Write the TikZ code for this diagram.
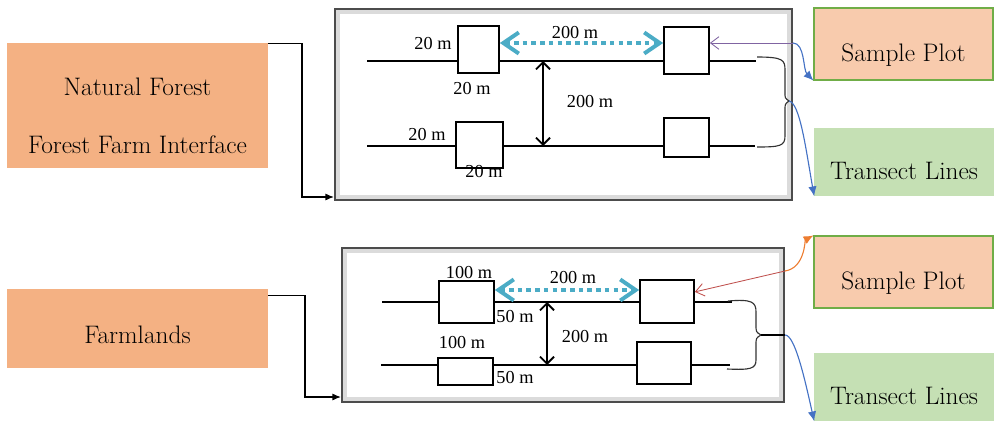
\documentclass[tikz,border=0pt]{standalone}
\usepackage{fontspec}
\newfontfamily\dimfont{Liberation Serif}
\usetikzlibrary{arrows.meta,positioning}
\definecolor{landfill}{HTML}{F4B183}
\definecolor{plotfill}{HTML}{F8CBAD}
\definecolor{plotedge}{HTML}{70AD47}
\definecolor{linefill}{HTML}{C5E0B4}
\definecolor{gapblue}{HTML}{4BACC6}
\definecolor{linkblue}{HTML}{4472C4}
\definecolor{linkpurple}{HTML}{8064A2}
\definecolor{linkred}{HTML}{C0504D}
\definecolor{linkorange}{HTML}{ED7D31}

\begin{document}
\begin{tikzpicture}[x=0.025cm, y=-0.025cm,
	landuse/.style={fill=landfill, inner sep=0pt, minimum width=6.525cm, font=\fontsize{18}{41}\selectfont, align=center},
	target/.style={inner sep=0pt, minimum width=4.475cm, minimum height=1.8cm, font=\fontsize{18}{21}\selectfont, text height=0.95cm, text depth=0.1cm},
	panel/.style={draw=black!70, line width=1.5pt, fill=white, inner sep=0pt},
	rim/.style={draw=black!14, line width=3pt},
	transect/.style={line width=1.3pt},
	plotbox/.style 2 args={draw, line width=1.2pt, fill=white, inner sep=0pt, minimum width=#1*0.025cm, minimum height=#2*0.025cm},
	dim/.style={font=\dimfont\fontsize{13}{15}\selectfont, inner sep=0pt},
	gap/.style={gapblue, line width=2.8pt, dash pattern=on 3.2pt off 3pt, {Straight Barb[length=11pt,width=15pt]}-{Straight Barb[length=11pt,width=15pt]}},
	span/.style={line width=1.3pt, {Straight Barb[length=5pt,width=10pt]}-{Straight Barb[length=5pt,width=10pt]}},
	feed/.style={line width=0.8pt, -{Latex[length=6pt,width=5pt]}},
	pointer/.style={line width=0.6pt, -{Straight Barb[length=6pt,width=9pt]}},
	curl/.style={linkblue, line width=0.8pt, -{Latex[length=7pt,width=6pt]}},
	brace/.style={black!80, line width=0.8pt}]
		\useasboundingbox (0,0) rectangle (1000,428);
		\node[landuse, minimum height=3.125cm, text height=2.45cm, text depth=0.075cm] (nf) at (137.5,105.5) {Natural Forest\\Forest Farm Interface};
		\node[landuse, minimum height=1.975cm, text height=0.85cm, text depth=0.125cm] (fl) at (137.5,328.5) {Farmlands};
		\node[panel, minimum width=11.425cm, minimum height=4.775cm] (top) at (563.5,104.5) {};
		\node[panel, minimum width=11.05cm, minimum height=3.85cm] (bot) at (563,325) {};
		\draw[rim] (338,12) rectangle (789,197);
		\draw[rim] (345,251) rectangle (781,399);
		\draw[transect] (367,61) -- (756,61);
		\draw[transect] (367,146) -- (755,146);
		\draw[transect] (382,302) -- (732,302);
		\draw[transect] (381,365) -- (730,365);
		\node[plotbox={41}{47}] (pa) at (478.5,49.5) {};
		\node[plotbox={45}{47}] (pb) at (686.5,50.5) {};
		\node[plotbox={47}{46}] (pc) at (479.5,145) {};
		\node[plotbox={45}{39}] (pd) at (686.5,137.5) {};
		\node[plotbox={55}{42}] (pe) at (466.5,302) {};
		\node[plotbox={54}{43}] (pf) at (667,301.5) {};
		\node[plotbox={55}{27}] (pg) at (465.5,371.5) {};
		\node[plotbox={54}{42}] (ph) at (664,363) {};
		\node[dim] (d1) at (575,33) {200 m};
		\node[dim] (d2) at (433,44) {20 m};
		\node[dim] (d3) at (472,89) {20 m};
		\node[dim] (d4) at (590,102) {200 m};
		\node[dim] (d5) at (427,135) {20 m};
		\node[dim] (d6) at (484,172) {20 m};
		\node[dim] (d7) at (469,273) {100 m};
		\node[dim] (d8) at (573,278) {200 m};
		\node[dim] (d9) at (515,317) {50 m};
		\node[dim] (d10) at (585,337) {200 m};
		\node[dim] (d11) at (462,343) {100 m};
		\node[dim] (d12) at (515,378) {50 m};
		\coordinate (g1) at (0,43);
		\coordinate (g2) at (0,290);
		\draw[gap] (pa.east |- g1) -- (pb.west |- g1);
		\draw[gap] (pe.east |- g2) -- (pf.west |- g2);
		\draw[span] (543,61) -- (543,146);
		\draw[span] (547,302) -- (547,365);
		\coordinate (k1) at (302,197);
		\coordinate (k2) at (305,397);
		\draw[feed] ([yshift=-0.025cm]nf.north east) -| (k1) -- (k1 -| top.west);
		\draw[feed] ([yshift=-0.175cm]fl.north east) -| (k2) -- (k2 -| bot.west);
		\node[target, fill=plotfill, draw=plotedge, line width=0.8pt] (sp1) at (903.5,44) {Sample Plot};
		\node[target, fill=linefill, minimum height=1.7cm] (tl1) at (904,162) {Transect Lines};
		\node[target, fill=plotfill, draw=plotedge, line width=0.8pt] (sp2) at (903.5,272) {Sample Plot};
		\node[target, fill=linefill, minimum height=1.7cm] (tl2) at (904,387) {Transect Lines};
		\coordinate (s1) at (793,43);
		\coordinate (c1) at (789,101);
		\draw[pointer, linkpurple] (s1) -- (pb.east |- s1);
		\draw[curl] (s1) .. controls (805,43) and (803,70) .. (sp1.south west);
		\draw[brace] (757,57) .. controls (783,57) and (785,60) .. (785,70) -- (785,93) .. controls (785,98) .. (c1) .. controls (785,104) .. (785,110) -- (785,136) .. controls (785,146) and (780,147) .. (757,147);
		\draw[curl] (c1) .. controls (800,103) and (806,150) .. (tl1.south west);
		\coordinate (s2) at (785,271);
		\coordinate (c2) at (761,335);
		\draw[pointer, linkred] (s2) -- ([yshift=0.24cm]pf.east);
		\draw[curl, linkorange] (s2) .. controls (805,268) and (805,240) .. (sp2.north west);
		\draw[brace] (728,301) .. controls (752,299) and (756,302) .. (756,312) -- (756,325) .. controls (756,332) .. (c2) .. controls (756,338) .. (756,345) -- (756,360) .. controls (756,369) and (750,370) .. (727,369);
		\draw[line width=1.5pt] (c2) -- (c2 -| bot.east);
		\draw[curl] (c2 -| bot.east) .. controls (795,335) and (805,380) .. (tl2.south west);
	\end{tikzpicture}
\end{document}
